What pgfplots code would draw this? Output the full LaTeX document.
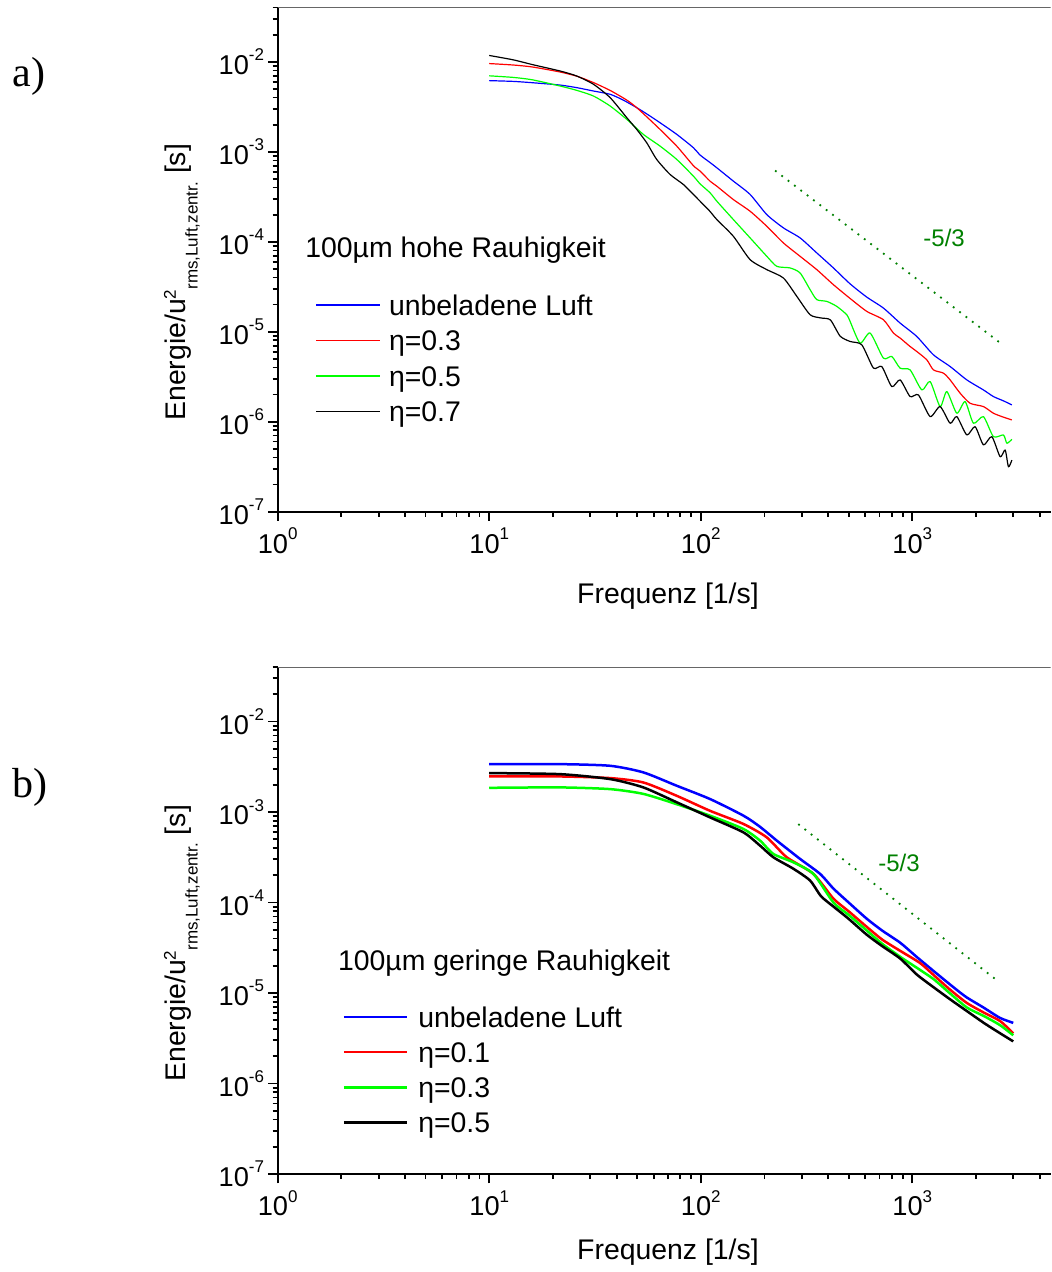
\documentclass[border=0pt]{standalone}
\usepackage{fontspec}
\setmainfont{Liberation Sans}
\newfontfamily\seriffont{Liberation Serif}
\usepackage{pgfplots}
\pgfplotsset{compat=1.18}
\definecolor{dgreen}{RGB}{0,128,0}
\newcommand\tsp[1]{\raisebox{6.8pt}{\fontsize{8.5}{9}\selectfont #1}}
\newcommand\lsp[1]{\raisebox{5pt}{\fontsize{8.5}{9}\selectfont #1}}
\newcommand\lsb[1]{\raisebox{-5.8pt}{\fontsize{8.5}{9}\selectfont #1}}
\begin{document}
\begin{tikzpicture}
\useasboundingbox (-138.85pt,-380.2pt) rectangle (386.65pt,255.8pt);
\node[anchor=base west, inner sep=0pt, font=\seriffont\fontsize{21}{22}\selectfont] at (-132.85pt,212.3pt) {a)};
\node[anchor=base west, inner sep=0pt, font=\seriffont\fontsize{21}{22}\selectfont] at (-133pt,-142.7pt) {b)};
% ---------------- a) ----------------
\begin{axis}[
    scale only axis, width=386.4pt, height=252pt,
    xmode=log, ymode=log,
    xmin=1, xmax=4500, ymin=1e-7, ymax=0.04,
    axis x line=bottom, axis y line=left,
    axis line style={-, line width=1.1pt, black},
    tick align=outside,
    major tick length=4.65pt, minor tick length=2.5pt,
    tick style={black, line width=0.9pt},
    xtick={1,10,100,1000},
    xticklabels={10\tsp{0},10\tsp{1},10\tsp{2},10\tsp{3}},
    minor xtick={2,3,4,5,6,7,8,9,20,30,40,50,60,70,80,90,200,300,400,500,600,700,800,900,2000,3000,4000},
    ytick={1e-7,1e-6,1e-5,1e-4,1e-3,1e-2},
    yticklabels={10\tsp{-7},10\tsp{-6},10\tsp{-5},10\tsp{-4},10\tsp{-3},10\tsp{-2}},
    minor ytick={2e-7,3e-7,4e-7,5e-7,6e-7,7e-7,8e-7,9e-7,2e-6,3e-6,4e-6,5e-6,6e-6,7e-6,8e-6,9e-6,2e-5,3e-5,4e-5,5e-5,6e-5,7e-5,8e-5,9e-5,2e-4,3e-4,4e-4,5e-4,6e-4,7e-4,8e-4,9e-4,2e-3,3e-3,4e-3,5e-3,6e-3,7e-3,8e-3,9e-3,2e-2,3e-2,4e-2},
    ticklabel style={font=\fontsize{13.6}{15}\selectfont},
    yticklabel style={inner sep=2pt},
    label style={font=\fontsize{14.2}{17}\selectfont},
    xlabel={Frequenz [1/s]},
    ylabel={Energie/u\lsp{2}\lsb{rms,Luft,zentr.} [s]},
    ylabel style={at={(rel axis cs:-0.1187,0.455)}, anchor=base},
    xlabel style={at={(rel axis cs:0.505,-0.1833)}, anchor=base},
    legend cell align=left,
    legend style={draw=none, fill=none, inner sep=0pt, outer sep=0pt,
      font=\fontsize{14.2}{17}\selectfont,
      nodes={inner sep=0pt, text height=13pt, text depth=2.8pt},
      at={(rel axis cs:0.0492,0.4413)}, anchor=north west, row sep=1.95pt, column sep=4.35pt},
    legend image code/.code={\draw[#1] (0pt,0pt) -- (31.7pt,0pt);},
    every axis plot/.append style={line width=0.6pt, line join=round, smooth, tension=0.4}]
\addplot[blue] coordinates {
(10,6.17e-3) (13,6.05e-3) (16,5.85e-3) (21.6,5.51e-3) (26,5.15e-3) (31.1,4.73e-3) (37.3,4.35e-3)
(43,3.75e-3) (49.8,3.09e-3) (56,2.6e-3) (64.2,2.10e-3) (77.0,1.56e-3) (92.3,1.108e-3) (99.2,9.2e-4)
(110.7,7.57e-4) (119.1,6.63e-4) (132.7,5.4e-4) (142.6,4.71e-4) (171.1,3.35e-4) (205.2,2.00e-4)
(245.8,1.425e-4) (294.8,1.102e-4) (353.6,7.50e-5) (423.6,5.11e-5) (508,3.40e-5) (609.5,2.42e-5)
(730.1,1.83e-5) (875.7,1.246e-5) (1050,8.84e-6) (1258.5,5.53e-6) (1509,4.10e-6) (1810,2.91e-6)
(2169,2.25e-6) (2418,1.90e-6) (2700,1.70e-6) (2955,1.535e-6)};
\addlegendentry{unbeladene Luft}
\addplot[red] coordinates {
(10,9.55e-3) (13,9.2e-3) (16,8.75e-3) (21.6,7.70e-3) (26,6.9e-3) (31.1,5.87e-3) (37.3,4.8e-3)
(44.7,3.75e-3) (49.8,3.09e-3) (56,2.4e-3) (64.2,1.77e-3) (77.0,1.155e-3) (92.3,7.0e-4) (99.2,6.1e-4)
(110.7,4.7e-4) (119.1,4.14e-4) (142.6,2.94e-4) (171.1,2.18e-4) (205.2,1.484e-4) (245.8,9.69e-5)
(294.8,6.88e-5) (353.6,4.89e-5) (423.6,3.33e-5) (508,2.34e-5) (609.5,1.68e-5) (730.1,1.357e-5)
(814.1,9.65e-6) (875.7,8.49e-6) (976.3,6.84e-6) (1050,6.02e-6) (1171,4.86e-6) (1258.5,3.76e-6)
(1403,3.46e-6) (1509,2.91e-6) (1683,2.07e-6) (1877,1.60e-6) (2169,1.47e-6) (2418,1.24e-6)
(2700,1.12e-6) (2955,1.045e-6)};
\addlegendentry{η=0.3}
\addplot[green] coordinates {
(10,6.98e-3) (13,6.7e-3) (16,6.3e-3) (21.6,5.38e-3) (26,4.8e-3) (31.1,4.16e-3) (37.3,3.22e-3)
(44.7,2.29e-3) (53.5,1.56e-3) (64.2,1.155e-3) (77.0,8.21e-4) (92.3,5.35e-4) (99.2,4.4e-4)
(110.7,3.49e-4) (119.1,2.82e-4) (142.6,1.762e-4) (171.1,1.102e-4) (205.2,6.88e-5) (228.8,5.32e-5)
(264.4,5.11e-5) (294.8,4.49e-5) (328.7,2.93e-5) (353.6,2.27e-5) (394.2,2.17e-5) (439.5,1.91e-5)
(490.1,1.542e-5) (508,1.30e-5) (566.4,7.46e-6) (631.8,9.65e-6) (730.1,5.08e-6) (800,5.30e-6)
(875.7,3.93e-6) (976.3,3.76e-6) (1108.9,2.25e-6) (1214,2.79e-6) (1353.5,1.47e-6) (1456,2.16e-6)
(1623,1.24e-6) (1777,1.67e-6) (1945,9.60e-7) (2169,1.136e-6) (2418,6.81e-7) (2696,7.11e-7)
(2798,5.75e-7) (2955,6.37e-7)};
\addlegendentry{η=0.5}
\addplot[black] coordinates {
(10,1.175e-2) (13,1.05e-2) (16,9.3e-3) (21.6,7.90e-3) (25.9,6.95e-3) (31.1,5.62e-3) (37.3,3.99e-3)
(44.7,2.39e-3) (49.8,1.77e-3) (55.5,1.26e-3) (61.9,8.21e-4) (71.6,5.59e-4) (82.8,4.32e-4)
(92.3,3.35e-4) (99.2,2.82e-4) (110,2.2e-4) (119.1,1.762e-4) (142.6,1.148e-4) (171.1,6.32e-5)
(205.2,4.89e-5) (245.8,3.95e-5) (284.4,2.47e-5) (328.7,1.542e-5) (370,1.42e-5) (410,1.35e-5)
(456,8.91e-6) (508,7.78e-6) (577,7.14e-6) (655,3.94e-6) (717.5,4.09e-6) (800,2.45e-6)
(875.7,2.91e-6) (976,1.90e-6) (1069,1.98e-6) (1214,1.138e-6) (1353,1.47e-6) (1509,9.59e-7)
(1623,1.138e-6) (1810,7.11e-7) (1981,8.79e-7) (2169,5.51e-7) (2376,6.81e-7) (2601,4.07e-7)
(2747,4.84e-7) (2848,3.15e-7) (2955,3.74e-7)};
\addlegendentry{η=0.7}
\addplot[dgreen, line width=0.9pt, dash pattern=on 0.9pt off 3.1pt, forget plot, sharp plot] coordinates {(224.5,6.17e-4) (2698,7.03e-6)};
\node[anchor=center, text=dgreen, font=\fontsize{12}{14}\selectfont] at (rel axis cs:0.8623,0.543) {-5/3};
\node[anchor=base west, inner sep=0pt, font=\fontsize{14.2}{17}\selectfont] at (rel axis cs:0.0353,0.5048) {100µm hohe Rauhigkeit};
\draw[black!60, line width=0.5pt] (rel axis cs:0,1) -- (rel axis cs:1,1);
\end{axis}
% ---------------- b) ----------------
\begin{axis}[at={(0pt,-331.2pt)},
    scale only axis, width=386.4pt, height=253.5pt,
    xmode=log, ymode=log,
    xmin=1, xmax=4500, ymin=1e-7, ymax=0.04,
    axis x line=bottom, axis y line=left,
    axis line style={-, line width=1.1pt, black},
    tick align=outside,
    major tick length=4.65pt, minor tick length=2.5pt,
    tick style={black, line width=0.9pt},
    xtick={1,10,100,1000},
    xticklabels={10\tsp{0},10\tsp{1},10\tsp{2},10\tsp{3}},
    minor xtick={2,3,4,5,6,7,8,9,20,30,40,50,60,70,80,90,200,300,400,500,600,700,800,900,2000,3000,4000},
    ytick={1e-7,1e-6,1e-5,1e-4,1e-3,1e-2},
    yticklabels={10\tsp{-7},10\tsp{-6},10\tsp{-5},10\tsp{-4},10\tsp{-3},10\tsp{-2}},
    minor ytick={2e-7,3e-7,4e-7,5e-7,6e-7,7e-7,8e-7,9e-7,2e-6,3e-6,4e-6,5e-6,6e-6,7e-6,8e-6,9e-6,2e-5,3e-5,4e-5,5e-5,6e-5,7e-5,8e-5,9e-5,2e-4,3e-4,4e-4,5e-4,6e-4,7e-4,8e-4,9e-4,2e-3,3e-3,4e-3,5e-3,6e-3,7e-3,8e-3,9e-3,2e-2,3e-2,4e-2},
    ticklabel style={font=\fontsize{13.6}{15}\selectfont},
    yticklabel style={inner sep=2pt},
    label style={font=\fontsize{14.2}{17}\selectfont},
    xlabel={Frequenz [1/s]},
    ylabel={Energie/u\lsp{2}\lsb{rms,Luft,zentr.} [s]},
    ylabel style={at={(rel axis cs:-0.1187,0.455)}, anchor=base},
    xlabel style={at={(rel axis cs:0.505,-0.1677)}, anchor=base},
    legend cell align=left,
    legend style={draw=none, fill=none, inner sep=0pt, outer sep=0pt,
      font=\fontsize{14.2}{17}\selectfont,
      nodes={inner sep=0pt, text height=13pt, text depth=2.8pt},
      at={(rel axis cs:0.0841,0.3408)}, anchor=north west, row sep=1.8pt, column sep=4.85pt},
    legend image code/.code={\draw[#1] (0pt,0pt) -- (31.7pt,0pt);},
    every axis plot/.append style={line width=1.25pt, line join=round, smooth, tension=0.4}]
\addplot[blue] coordinates {
(10,3.39e-3) (21.6,3.38e-3) (37.3,3.24e-3) (53.5,2.74e-3) (77.0,1.95e-3) (110.7,1.39e-3)
(159,9.12e-4) (190,6.9e-4) (228.7,4.83e-4) (294.8,3.03e-4) (366.6,2.07e-4) (423.6,1.426e-4) (500,1.0e-4) (609.5,6.61e-5)
(720,4.9e-5) (877,3.59e-5) (1050,2.5e-5) (1259,1.754e-5) (1563,1.16e-5) (1800,9.0e-6) (2168,6.92e-6) (2600,5.3e-6) (3000,4.68e-6)};
\addlegendentry{unbeladene Luft}
\addplot[red] coordinates {
(10,2.48e-3) (21.6,2.47e-3) (37.3,2.37e-3) (53.5,2.12e-3) (77.0,1.51e-3) (110.7,1.03e-3)
(159,7.38e-4) (205,5.25e-4) (255,3.16e-4) (340.8,2.07e-4) (423.6,1.104e-4) (500,8.0e-5) (609.5,5.37e-5)
(720,3.9e-5) (877,2.92e-5) (1089,2.14e-5) (1259,1.585e-5) (1500,1.1e-5) (1811,7.76e-6) (2200,6.0e-6) (2600,4.90e-6) (3000,3.59e-6)};
\addlegendentry{η=0.1}
\addplot[green] coordinates {
(10,1.85e-3) (21.6,1.87e-3) (37.3,1.79e-3) (53.5,1.585e-3) (77.0,1.22e-3) (110.7,9.10e-4)
(159,6.50e-4) (190.7,4.83e-4) (220.4,3.44e-4) (274,2.78e-4) (340.8,2.07e-4) (423.6,1.0e-4) (500,7.3e-5)
(609.5,4.90e-5) (720,3.5e-5) (877,2.51e-5) (1050,1.9e-5) (1259,1.426e-5) (1500,1.0e-5) (1811,6.92e-6) (2200,5.5e-6) (2600,4.41e-6) (3000,3.41e-6)};
\addlegendentry{η=0.3}
\addplot[black] coordinates {
(10,2.69e-3) (21.6,2.62e-3) (37.3,2.31e-3) (53.5,1.87e-3) (77.0,1.28e-3) (110.7,8.71e-4)
(159,5.96e-4) (190.7,4.25e-4) (220.4,3.16e-4) (274,2.36e-4) (328.6,1.75e-4) (370,1.175e-4)
(423.6,9.02e-5) (500,6.6e-5) (609.5,4.40e-5) (720,3.3e-5) (877,2.40e-5) (1050,1.6e-5) (1259,1.16e-5) (1500,8.6e-6) (1811,6.31e-6) (2200,4.6e-6) (2600,3.59e-6) (3000,2.92e-6)};
\addlegendentry{η=0.5}
\addplot[dgreen, line width=0.9pt, dash pattern=on 0.9pt off 3.1pt, forget plot, sharp plot] coordinates {(289,7.35e-4) (2512,1.38e-5)};
\node[anchor=center, text=dgreen, font=\fontsize{12}{14}\selectfont] at (rel axis cs:0.804,0.6134) {-5/3};
\node[anchor=base west, inner sep=0pt, font=\fontsize{14.2}{17}\selectfont] at (rel axis cs:0.0776,0.4008) {100µm geringe Rauhigkeit};
\draw[black!60, line width=0.5pt] (rel axis cs:0,1) -- (rel axis cs:1,1);
\end{axis}
\end{tikzpicture}
\end{document}
